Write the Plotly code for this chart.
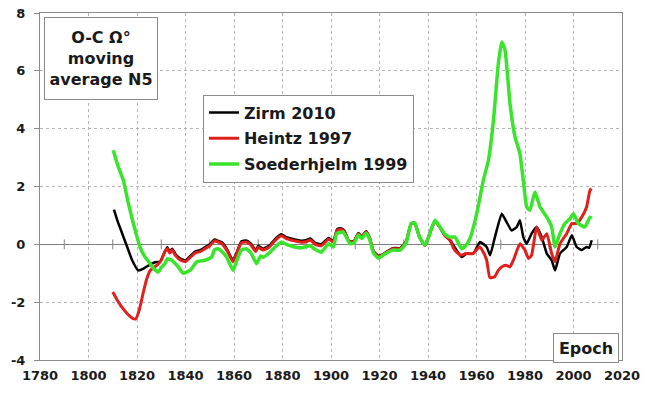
import plotly.graph_objects as go

# Zirm 2010
zirm_year = [1810.5, 1812, 1814, 1816, 1818, 1820.5, 1822.5, 1825.4, 1827.5, 1829.5,
             1831.5, 1832.5, 1833.5, 1834.5, 1836, 1838, 1840, 1842, 1844, 1846,
             1848, 1850, 1852, 1853.5, 1855, 1857, 1859.5, 1861, 1863, 1865,
             1867, 1869, 1870, 1872, 1874.5, 1877, 1879.5, 1881.5, 1883.5, 1885,
             1888, 1890, 1891.5, 1893.5, 1896, 1899, 1901, 1902.5, 1904, 1905.5,
             1907.5, 1909.5, 1911.3, 1912.6, 1914.5, 1916, 1917.5, 1919.5, 1921, 1923,
             1925.5, 1928.5, 1931, 1933, 1934.5, 1936.5, 1938.7, 1940, 1942.8, 1944.8,
             1947, 1949, 1951, 1953.9, 1956, 1958.7, 1961.4, 1964.2, 1965.6, 1967.6,
             1970.4, 1972.4, 1974.5, 1976.6, 1977.9, 1979.3, 1980.7, 1982.7, 1984.8, 1986.9,
             1989, 1991, 1992.4, 1994.4, 1997.2, 1999.3, 2001.3, 2003.4, 2005.4, 2006.5,
             2007.5]
zirm_val = [1.2, 0.8, 0.35, -0.1, -0.55, -0.9, -0.85, -0.7, -0.62, -0.6,
            -0.25, -0.1, -0.25, -0.15, -0.35, -0.5, -0.55, -0.4, -0.25, -0.2,
            -0.1, 0.0, 0.17, 0.12, 0.07, -0.15, -0.55, -0.3, 0.1, 0.13,
            0.02, -0.2, -0.05, -0.15, -0.05, 0.19, 0.35, 0.25, 0.2, 0.17,
            0.12, 0.15, 0.2, 0.05, 0.0, 0.22, 0.12, 0.52, 0.56, 0.48,
            0.1, 0.12, 0.39, 0.27, 0.45, 0.22, -0.23, -0.4, -0.36, -0.25,
            -0.13, -0.13, 0.1, 0.72, 0.74, 0.27, -0.05, 0.2, 0.8, 0.6,
            0.3, 0.15, -0.1, -0.44, -0.32, -0.32, 0.08, -0.09, -0.38, 0.25,
            1.06, 0.77, 0.48, 0.6, 0.83, 0.25, 0.02, 0.37, 0.6, 0.25,
            -0.32, -0.55, -0.9, -0.32, -0.09, 0.31, -0.09, -0.2, -0.09, -0.12,
            0.14]

# Heintz 1997
heintz_year = [1810, 1812, 1814, 1816, 1818, 1819.5, 1821, 1822.5, 1824, 1825.5,
               1827, 1828.5, 1830, 1831.5, 1832.5, 1833.5, 1834.5, 1836, 1838, 1840,
               1842, 1844, 1846, 1848, 1850, 1852, 1853.5, 1855, 1857, 1859.5,
               1861, 1863, 1865, 1867, 1869, 1870, 1872, 1874.5, 1877, 1879.5,
               1881.5, 1883.5, 1885, 1888, 1890, 1891.5, 1893.5, 1896, 1899, 1901,
               1902.5, 1904, 1905.5, 1907.5, 1909.5, 1911.3, 1912.6, 1914.5, 1916, 1917.5,
               1919.5, 1921, 1923, 1925.5, 1928.5, 1931, 1933, 1934.5, 1936.5, 1938.7,
               1940, 1942.8, 1944.8, 1947, 1949, 1951, 1953.5, 1955.5, 1958.5, 1961.3,
               1963, 1964.2, 1965.5, 1967.5, 1969, 1970.4, 1972, 1973.8, 1975.2, 1977.9,
               1980, 1981.4, 1982.7, 1984.8, 1986.9, 1989, 1991, 1992.4, 1994.4, 1997.2,
               1999.3, 2001.3, 2003.4, 2005.4, 2006.8, 2007.5]
heintz_val = [-1.65, -1.95, -2.2, -2.4, -2.55, -2.58, -2.25, -1.7, -1.2, -0.9,
              -0.8, -0.7, -0.55, -0.25, -0.15, -0.3, -0.2, -0.4, -0.55, -0.6,
              -0.45, -0.3, -0.25, -0.15, -0.05, 0.12, 0.08, 0.02, -0.2, -0.6,
              -0.35, 0.05, 0.08, -0.03, -0.25, -0.1, -0.2, -0.1, 0.14, 0.3,
              0.2, 0.15, 0.12, 0.07, 0.1, 0.15, 0.0, -0.05, 0.18, 0.08,
              0.48, 0.52, 0.45, 0.08, 0.1, 0.37, 0.25, 0.43, 0.2, -0.25,
              -0.42, -0.38, -0.27, -0.15, -0.15, 0.08, 0.7, 0.72, 0.25, -0.03,
              0.2, 0.8, 0.6, 0.3, 0.15, -0.2, -0.38, -0.32, -0.32, -0.09,
              -0.3, -0.55, -1.15, -1.12, -0.9, -0.78, -0.72, -0.78, -0.55, 0.02,
              -0.2, -0.49, -0.38, 0.6, 0.14, 0.37, -0.32, -0.6, 0.02, 0.37,
              0.72, 0.72, 0.94, 1.29, 1.87, 1.92]

# Soederhjelm 1999
soed_year = [1810.2, 1812, 1814.4, 1816.5, 1818.5, 1820, 1821.2, 1823, 1825.4, 1827,
             1828.8, 1830, 1831.5, 1832.5, 1834.3, 1837, 1839, 1841.9, 1844.6, 1848,
             1850.8, 1852, 1853.5, 1855, 1857, 1859.6, 1861, 1863, 1865, 1867,
             1869.3, 1871, 1872, 1874.5, 1877, 1879.6, 1881.5, 1885, 1888, 1891.3,
             1893.5, 1896, 1899, 1901, 1902.3, 1905, 1906, 1907.8, 1909.5, 1911.3,
             1912.6, 1914.5, 1916, 1917.5, 1919.5, 1921, 1923, 1925.5, 1928.5, 1931,
             1933, 1934.5, 1936.5, 1938.7, 1940, 1942.8, 1944.8, 1947, 1949, 1951.1,
             1953.9, 1955.5, 1957.3, 1960.1, 1962.8, 1964.9, 1967, 1969, 1970.4, 1971.8,
             1973.8, 1975.9, 1977.9, 1979.3, 1980.7, 1982, 1984.1, 1986.2, 1989, 1991,
             1992.4, 1994.4, 1996.5, 1998.6, 2000, 2002, 2004.7, 2006.8, 2007.5]
soed_val = [3.25, 2.75, 2.2, 1.4, 0.72, 0.25, -0.09, -0.4, -0.67, -0.85,
            -0.96, -0.8, -0.67, -0.5, -0.55, -0.78, -1.0, -0.9, -0.61, -0.55,
            -0.44, -0.18, -0.15, -0.25, -0.45, -0.9, -0.6, -0.2, -0.15, -0.3,
            -0.67, -0.4, -0.45, -0.3, -0.09, 0.08, 0.0, -0.09, -0.12, -0.05,
            -0.18, -0.27, 0.02, -0.09, 0.37, 0.43, 0.3, 0.02, 0.05, 0.32,
            0.2, 0.38, 0.15, -0.3, -0.48, -0.4, -0.3, -0.2, -0.2, 0.05,
            0.72, 0.74, 0.25, -0.03, 0.2, 0.83, 0.62, 0.35, 0.25, 0.25,
            -0.15, -0.05, 0.2, 1.06, 2.21, 2.9, 4.29, 6.25, 7.0, 6.71,
            4.87, 3.71, 3.14, 2.21, 1.29, 1.18, 1.81, 1.29, 0.94, 0.6,
            -0.09, 0.37, 0.72, 0.89, 1.06, 0.72, 0.6, 0.94, 0.9]

x_ticks = list(range(1780, 2021, 20))
y_ticks = list(range(-4, 9, 2))
zero_axis_ticks = list(range(1790, 2011, 20))

FONT = "DejaVu Sans"
GRID = "#b4b4b4"
TEXT = "#1a1a1a"
BOX = "#8a8a8a"

fig = go.Figure()

# small tick marks along the y = 0 axis line
fig.add_trace(go.Scatter(
    x=zero_axis_ticks, y=[0] * len(zero_axis_ticks), mode="markers",
    marker=dict(symbol="line-ns", size=7, line=dict(width=1, color="#808080")),
    showlegend=False, hoverinfo="skip"))

series = [
    ("Zirm 2010", zirm_year, zirm_val, "#000000", 2.5),
    ("Heintz 1997", heintz_year, heintz_val, "#e0201c", 3),
    ("Soederhjelm 1999", soed_year, soed_val, "#38e52a", 3.5),
]
for name, xs, ys, color, width in series:
    fig.add_trace(go.Scatter(
        x=xs, y=ys, mode="lines", name=name, legendgroup=name,
        line=dict(color=color, width=width, shape="spline", smoothing=0.4)))

fig.update_layout(
    width=650, height=394,
    margin=dict(l=40, r=28, t=13, b=34),
    paper_bgcolor="white", plot_bgcolor="white",
    font=dict(family=FONT, size=13, color=TEXT, weight="bold"),
    xaxis=dict(
        range=[1780, 2020], tickvals=x_ticks, ticktext=[str(v) for v in x_ticks],
        showgrid=True, gridcolor=GRID, griddash="dot", gridwidth=1,
        showline=True, linecolor=BOX, linewidth=1, mirror=True,
        ticks="", zeroline=False, ticklabelstandoff=3, automargin=False,
        tickfont=dict(family=FONT, size=13, weight="bold", color=TEXT)),
    yaxis=dict(
        range=[-4, 8], tickvals=y_ticks, ticktext=[str(v) for v in y_ticks],
        showgrid=True, gridcolor=GRID, griddash="dot", gridwidth=1,
        showline=True, linecolor=BOX, linewidth=1, mirror=True,
        ticks="outside", ticklen=5, tickcolor=BOX,
        zeroline=True, zerolinecolor="#808080", zerolinewidth=1,
        ticklabelstandoff=6, automargin=False,
        tickfont=dict(family=FONT, size=13, weight="bold", color=TEXT)),
    legend=dict(
        x=0.28, y=0.765, xanchor="left", yanchor="top",
        bgcolor="white", bordercolor=BOX, borderwidth=1,
        traceorder="grouped", tracegroupgap=2,
        font=dict(family=FONT, size=16, weight="bold", color=TEXT),
        itemwidth=30),
    annotations=[
        dict(xref="paper", yref="paper", x=0.1045, y=0.8675,
             xanchor="center", yanchor="middle",
             text="O-C Ω°<br>moving<br>average N5", showarrow=False,
             font=dict(family=FONT, size=16, weight="bold", color=TEXT),
             align="center", width=110, height=79,
             bgcolor="white", bordercolor=BOX, borderwidth=1),
        dict(xref="paper", yref="paper", x=0.9385, y=0.036,
             xanchor="center", yanchor="middle",
             text="Epoch", showarrow=False,
             font=dict(family=FONT, size=16, weight="bold", color=TEXT),
             width=62, height=26,
             bgcolor="white", bordercolor=BOX, borderwidth=1),
    ],
)

fig.write_html("out.html")
